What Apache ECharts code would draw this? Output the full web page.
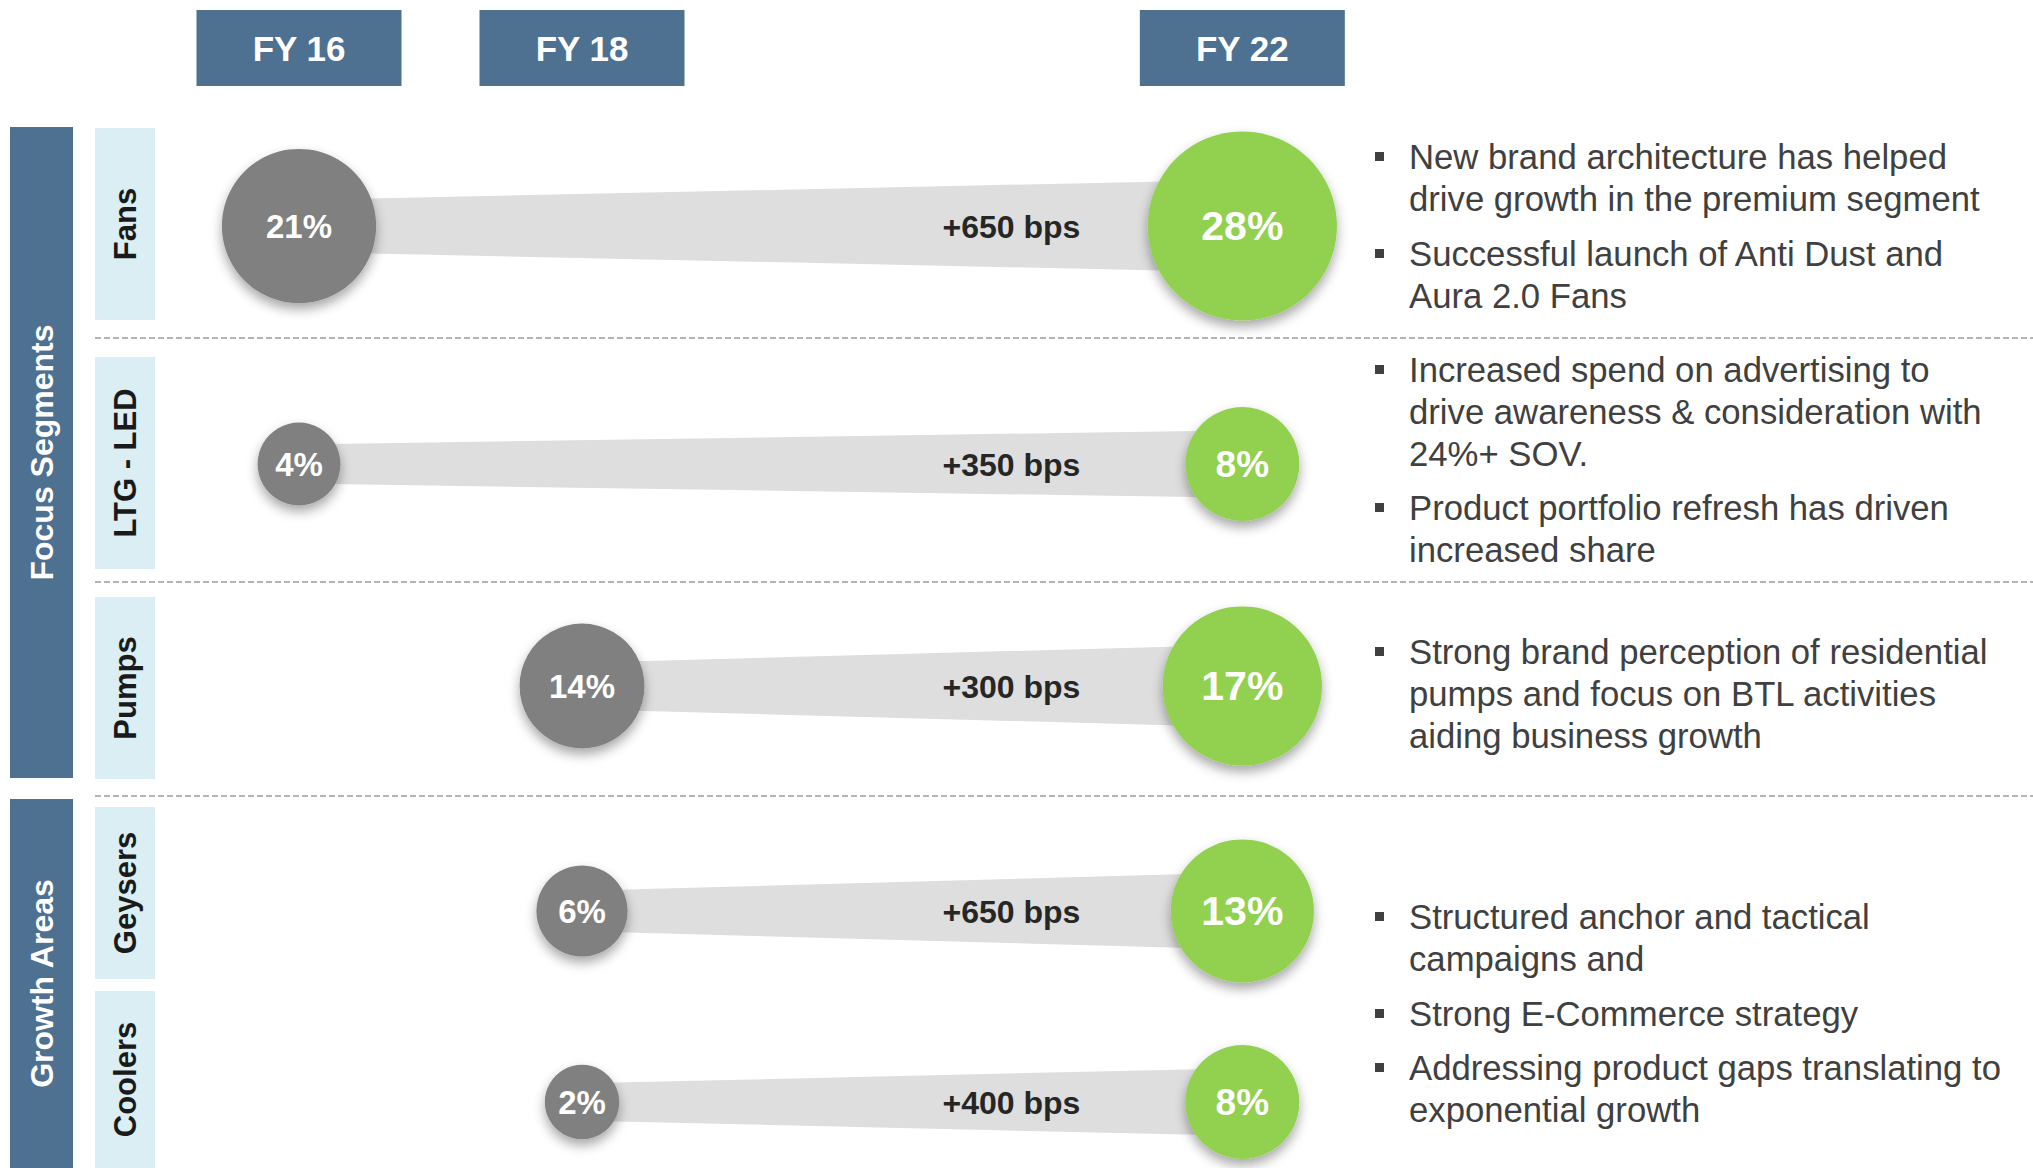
<!DOCTYPE html>
<html>
<head>
<meta charset="utf-8">
<title>Market share gains</title>
<script src="https://cdn.jsdelivr.net/npm/echarts@6/dist/echarts.min.js"></script>
<style>
  html, body { margin: 0; padding: 0; background: #fff; }
  #chart { width: 2033px; height: 1168px; }
</style>
</head>
<body>
<div id="chart"></div>
<script>
// values
const segments = ['Fans', 'LTG - LED', 'Pumps', 'Geysers', 'Coolers'];
const groups = ['Focus Segments', 'Growth Areas'];
const years = ['FY 16', 'FY 18', 'FY 22'];
const startYear = ['FY 16', 'FY 16', 'FY 18', 'FY 18', 'FY 18'];
const endYear = ['FY 22', 'FY 22', 'FY 22', 'FY 22', 'FY 22'];
const startShare = [21, 4, 14, 6, 2];
const endShare = [28, 8, 17, 13, 8];
const gainBps = [650, 350, 300, 650, 400];
const notes = [
  ['New brand architecture has helped\ndrive growth in the premium segment',
   'Successful launch of Anti Dust and\nAura 2.0 Fans'],
  ['Increased spend on advertising to\ndrive awareness & consideration with\n24%+ SOV.',
   'Product portfolio refresh has driven\nincreased share'],
  ['Strong brand perception of residential\npumps and focus on BTL activities\naiding business growth'],
  ['Structured anchor and tactical\ncampaigns and',
   'Strong E-Commerce strategy',
   'Addressing product gaps translating to\nexponential growth']
];

// layout
const BLUE = '#4e7091';
const PALE = '#daeef3';
const GREY = '#808080';
const GREEN = '#92d050';
const BAND = '#dedede';
const TEXT = '#404040';
const FONT = '"Liberation Sans", Arial, Helvetica, sans-serif';

// the columns are not evenly spaced on the slide, so they sit on slots
const slotOf = { 'FY 16': 0, 'FY 18': 3, 'FY 22': 10 };
const rowMid = [226, 464, 686, 911, 1102];
const rowH = 120;
const labelBox = [[128, 320], [357, 569], [597, 779], [807, 979], [991, 1168]];
const groupBox = [[127, 778], [799, 1168]];
const dividers = [338, 582, 796];
const noteMid = [[157, 254], [370, 508], [652], [917, 1014, 1068]];

const startR = v => 33 + 2.1 * v;
const endR = v => 57 + 30 * Math.log(v / 8);

const chart = echarts.init(document.getElementById('chart'), null, { renderer: 'svg' });

const grid = [], xAxis = [], yAxis = [], series = [];

segments.forEach((name, i) => {
  grid.push({ left: 16, right: 319, top: rowMid[i] - rowH / 2, height: rowH });
  xAxis.push({
    gridIndex: i,
    type: 'value',
    min: -3,
    max: 15,
    show: i === 0,
    position: 'top',
    axisLine: { show: false },
    axisTick: { show: false },
    splitLine: { show: false },
    axisLabel: {
      customValues: years.map(y => slotOf[y]),
      formatter: v => years.find(y => slotOf[y] === v) || '',
      margin: rowMid[0] - rowH / 2 - 86,
      color: '#fff',
      fontFamily: FONT,
      fontWeight: 'bold',
      fontSize: 35,
      backgroundColor: BLUE,
      width: 205,
      height: 76,
      lineHeight: 76,
      align: 'center',
      verticalAlign: 'bottom'
    }
  });
  yAxis.push({ gridIndex: i, type: 'category', data: [name], show: false });

  const x1 = slotOf[startYear[i]];
  const x2 = slotOf[endYear[i]];

  series.push({
    type: 'custom',
    xAxisIndex: i,
    yAxisIndex: i,
    z: 1,
    silent: true,
    encode: { x: [0, 2], y: 1 },
    data: [[x1, 0, x2, startShare[i], endShare[i], gainBps[i]]],
    renderItem(params, api) {
      const a = api.coord([api.value(0), api.value(1)]);
      const b = api.coord([api.value(2), api.value(1)]);
      const h1 = 12 + 0.18 * startR(api.value(3));
      const h2 = 15 + 0.33 * endR(api.value(4));
      return {
        type: 'group',
        children: [
          {
            type: 'polygon',
            shape: { points: [[a[0], a[1] - h1], [b[0], b[1] - h2], [b[0], b[1] + h2], [a[0], a[1] + h1]] },
            style: { fill: BAND }
          },
          {
            type: 'text',
            x: b[0] - 162,
            y: b[1] + 1,
            style: {
              text: '+' + api.value(5) + ' bps',
              fill: '#262626',
              fontFamily: FONT,
              fontWeight: 'bold',
              fontSize: 32,
              align: 'right',
              verticalAlign: 'middle'
            }
          }
        ]
      };
    }
  });

  const bubble = (x, v, color, r, size) => ({
    type: 'scatter',
    xAxisIndex: i,
    yAxisIndex: i,
    z: 3,
    clip: false,
    silent: true,
    data: [[x, 0, v]],
    symbolSize: 2 * r(v),
    itemStyle: {
      color: color,
      opacity: 1,
      shadowBlur: 12,
      shadowOffsetY: 6,
      shadowColor: 'rgba(0,0,0,0.35)'
    },
    label: {
      show: true,
      position: 'inside',
      formatter: p => p.value[2] + '%',
      color: '#fff',
      fontFamily: FONT,
      fontWeight: 'bold',
      fontSize: size
    }
  });
  series.push(bubble(x1, startShare[i], GREY, startR, 33));
  series.push(bubble(x2, endShare[i], GREEN, endR, endR(endShare[i]) >= 70 ? 41 : 37));
});

const graphic = [];

groups.forEach((g, k) => {
  const [t, b] = groupBox[k];
  graphic.push({ type: 'rect', shape: { x: 10, y: t, width: 63, height: b - t }, style: { fill: BLUE } });
  graphic.push({
    type: 'text', x: 41.5, y: (t + b) / 2, rotation: Math.PI / 2,
    style: { text: g, fill: '#fff', fontFamily: FONT, fontWeight: 'bold', fontSize: 32, align: 'center', verticalAlign: 'middle' }
  });
});

segments.forEach((name, i) => {
  const [t, b] = labelBox[i];
  graphic.push({ type: 'rect', shape: { x: 95, y: t, width: 60, height: b - t }, style: { fill: PALE } });
  graphic.push({
    type: 'text', x: 125, y: (t + b) / 2, rotation: Math.PI / 2,
    style: { text: name, fill: '#1a1a1a', fontFamily: FONT, fontWeight: 'bold', fontSize: 31, align: 'center', verticalAlign: 'middle' }
  });
});

dividers.forEach(y => {
  graphic.push({
    type: 'line', shape: { x1: 95, y1: y, x2: 2033, y2: y },
    style: { stroke: '#9c9c9c', lineWidth: 1.5, lineDash: [6, 3] }
  });
});

notes.forEach((block, k) => {
  block.forEach((txt, j) => {
    const y = noteMid[k][j];
    graphic.push({ type: 'rect', shape: { x: 1375, y: y - 5, width: 9, height: 9 }, style: { fill: TEXT } });
    graphic.push({
      type: 'text', x: 1409, y: y - 21,
      style: { text: txt, fill: TEXT, fontFamily: FONT, fontSize: 34.7, lineHeight: 42, verticalAlign: 'top' }
    });
  });
});

chart.setOption({
  backgroundColor: '#fff',
  animation: false,
  grid: grid,
  xAxis: xAxis,
  yAxis: yAxis,
  series: series,
  graphic: graphic
});
</script>
</body>
</html>
